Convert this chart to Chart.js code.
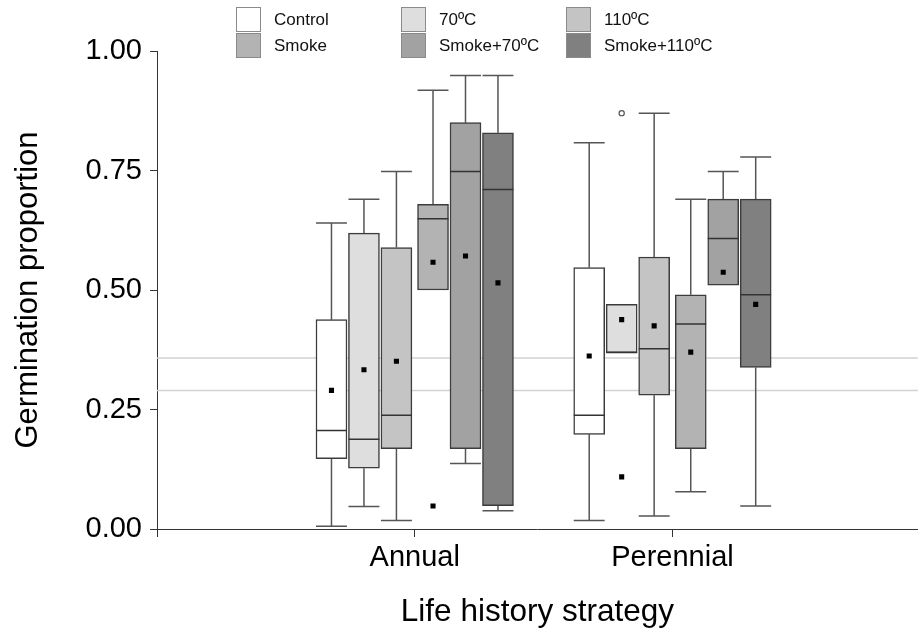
<!DOCTYPE html>
<html>
<head>
<meta charset="utf-8">
<script src="https://cdn.jsdelivr.net/npm/chart.js@4.4.1/dist/chart.umd.min.js"></script>
<style>
  body { margin: 0; background: #fff; font-family: "Liberation Sans", Arial, sans-serif; }
  #wrap { position: relative; width: 923px; height: 639px; overflow: hidden; }
  #wrap canvas { display: block; }
  .key { position: absolute; display: flex; align-items: center; font-size: 17px; color: #111; white-space: nowrap; }
  .key span.sw { display: inline-block; width: 23px; height: 23px; border: 1px solid #8a8a8a; margin-right: 13px; }
</style>
</head>
<body>
<div id="wrap">
  <canvas id="chart" width="923" height="639"></canvas>
</div>
<script>
// categories
const groups = ["Annual", "Perennial"];
const treatments = ["Control", "70ºC", "110ºC", "Smoke", "Smoke+70ºC", "Smoke+110ºC"];
const fills = ["#ffffff", "#dedede", "#c4c4c4", "#b3b3b3", "#a2a2a2", "#808080"];

// box plot values, one row per treatment: [Annual, Perennial]
const whiskerLow = [[0.006, 0.018], [0.047, null], [0.018, 0.027], [null, 0.078], [0.137, null], [0.038, 0.048]];
const q1 = [[0.147, 0.198], [0.127, 0.369], [0.168, 0.280], [0.500, 0.168], [0.168, 0.510], [0.049, 0.338]];
const median = [[0.206, 0.238], [0.188, 0.369], [0.238, 0.377], [0.649, 0.429], [0.748, 0.608], [0.710, 0.490]];
const q3 = [[0.438, 0.547], [0.619, 0.470], [0.589, 0.569], [0.679, 0.490], [0.850, 0.690], [0.829, 0.690]];
const whiskerHigh = [[0.640, 0.808], [0.690, null], [0.748, 0.870], [0.918, 0.690], [0.949, 0.748], [0.949, 0.778]];
const means = [[0.290, 0.362], [0.333, 0.438], [0.351, 0.425], [0.558, 0.370], [0.571, 0.537], [0.515, 0.470]];

// outliers: [group, treatment, value]
const outliersFilled = [[0, 3, 0.048], [1, 1, 0.109]];
const outliersOpen = [[1, 1, 0.870]];

// reference lines (control means)
const refLines = [0.358, 0.290];

const yTicks = [0, 0.25, 0.5, 0.75, 1];

// layout
const X_MAX = 2.952;
const boxStep = 0.126, midGap = 0.016, capHalf = 0.06;
function boxX(g, t) {
  return (g + 1) + (t - 2.5) * boxStep + (t < 3 ? -1 : 1) * midGap / 2;
}

// legend (html, 3 columns x 2 rows)
const wrap = document.getElementById("wrap");
const colLeft = [236, 401, 566];
treatments.forEach((name, t) => {
  const el = document.createElement("div");
  el.className = "key";
  el.style.left = colLeft[t % 3] + "px";
  el.style.top = (t < 3 ? 7 : 33) + "px";
  el.innerHTML = '<span class="sw" style="background:' + fills[t] + '"></span>' + name;
  wrap.appendChild(el);
});

Chart.defaults.font.family = '"Liberation Sans", Arial, sans-serif';
Chart.defaults.color = "#000";

const datasets = [];

// grey reference lines
datasets.push({
  type: "line",
  data: refLines.flatMap(v => [{ x: 0, y: v }, { x: 3, y: v }, { x: 3, y: null }]),
  borderColor: "#d2d2d2", borderWidth: 1.5, pointRadius: 0, order: 10
});

// boxes
treatments.forEach((name, t) => {
  datasets.push({
    type: "bar",
    label: name,
    data: groups.map((g, gi) => ({ x: boxX(gi, t), y: [q1[t][gi], q3[t][gi]] })),
    backgroundColor: fills[t],
    borderColor: "#3c3c3c",
    borderWidth: 1.5,
    borderSkipped: false,
    barThickness: 31,
    grouped: false,
    order: 6
  });
});

// whiskers + caps + medians
const whisk = [];
const caps = [];
const meds = [];
treatments.forEach((name, t) => {
  groups.forEach((g, gi) => {
    const x = boxX(gi, t);
    if (whiskerHigh[t][gi] != null) {
      whisk.push({ x, y: q3[t][gi] }, { x, y: whiskerHigh[t][gi] }, { x, y: null });
      caps.push({ x: x - capHalf, y: whiskerHigh[t][gi] }, { x: x + capHalf, y: whiskerHigh[t][gi] }, { x, y: null });
    }
    if (whiskerLow[t][gi] != null) {
      whisk.push({ x, y: q1[t][gi] }, { x, y: whiskerLow[t][gi] }, { x, y: null });
      caps.push({ x: x - capHalf, y: whiskerLow[t][gi] }, { x: x + capHalf, y: whiskerLow[t][gi] }, { x, y: null });
    }
    meds.push({ x: x - capHalf, y: median[t][gi] }, { x: x + capHalf, y: median[t][gi] }, { x, y: null });
  });
});
datasets.push({ type: "line", data: whisk, borderColor: "#555", borderWidth: 1.5, pointRadius: 0, order: 7 });
datasets.push({ type: "line", data: caps, borderColor: "#555", borderWidth: 1.5, pointRadius: 0, order: 7 });
datasets.push({ type: "line", data: meds, borderColor: "#333", borderWidth: 1.5, pointRadius: 0, order: 5 });

// means and outliers
const meanPts = [];
treatments.forEach((name, t) => groups.forEach((g, gi) => meanPts.push({ x: boxX(gi, t), y: means[t][gi] })));
outliersFilled.forEach(o => meanPts.push({ x: boxX(o[0], o[1]), y: o[2] }));
datasets.push({
  type: "line", data: meanPts, showLine: false,
  pointStyle: "rect", pointRadius: 3.6, pointBackgroundColor: "#000", pointBorderWidth: 0, order: 1
});
datasets.push({
  type: "line", data: outliersOpen.map(o => ({ x: boxX(o[0], o[1]), y: o[2] })), showLine: false,
  pointStyle: "circle", pointRadius: 2.6, pointBackgroundColor: "#fff", pointBorderColor: "#555", pointBorderWidth: 1.2, order: 1
});

new Chart(document.getElementById("chart"), {
  type: "bar",
  data: { datasets: datasets },
  options: {
    responsive: false,
    animation: false,
    layout: { padding: { top: 51, left: 0, right: 0, bottom: 0 } },
    plugins: { legend: { display: false }, tooltip: { enabled: false } },
    scales: {
      x: {
        type: "linear",
        min: 0,
        max: X_MAX,
        offset: false,
        afterFit: s => { s.height = 110; },
        afterBuildTicks: s => { s.ticks = [0, 1, 2].map(v => ({ value: v })); },
        ticks: {
          callback: v => (v >= 1 && v <= 2 ? groups[v - 1] : ""),
          font: { size: 29 },
          padding: 4,
          maxRotation: 0,
          autoSkip: false
        },
        grid: { drawOnChartArea: false, offset: false, tickLength: 8, color: "#333", lineWidth: 1 },
        border: { color: "#333", width: 1 },
        title: { display: true, text: "Life history strategy", font: { size: 31.5 }, padding: { top: 0, bottom: 8 } }
      },
      y: {
        min: 0,
        max: 1,
        afterFit: s => { s.width = 157; },
        afterBuildTicks: s => { s.ticks = yTicks.map(v => ({ value: v })); },
        ticks: { callback: v => v.toFixed(2), font: { size: 29 }, padding: 8 },
        grid: { drawOnChartArea: false, tickLength: 7, color: "#333", lineWidth: 1 },
        border: { color: "#333", width: 1 },
        title: { display: true, text: "Germination proportion", font: { size: 31 }, padding: { top: 10, bottom: 0 } }
      }
    }
  }
});
</script>
</body>
</html>
